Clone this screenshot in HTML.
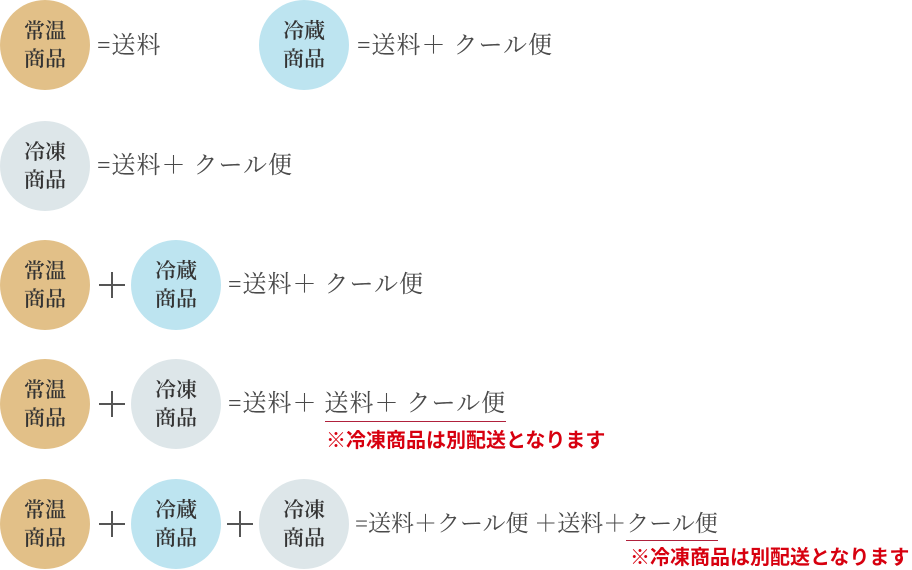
<!DOCTYPE html>
<html><head><meta charset="utf-8"><style>
body{margin:0;width:912px;height:570px;background:#fff;position:relative;overflow:hidden;font-family:"Liberation Serif","Noto Serif CJK JP","Noto Serif CJK SC",serif;color:#4a4a4a}
.c{position:absolute;width:90px;height:90px;border-radius:50%;display:flex;align-items:center;justify-content:center;text-align:center;font-size:21px;line-height:28px;color:#333;font-weight:600}
.t{background:#e2c088}.b{background:#bde4f0}.g{background:#dde6e9}
.x{position:absolute;font-size:24px;line-height:28px;letter-spacing:1px;white-space:nowrap}
.p{position:absolute;width:30px;height:30px}
.p:before{content:"";position:absolute;left:0;top:14px;width:26px;height:2px;background:#555}
.p:after{content:"";position:absolute;left:12px;top:2px;width:2px;height:26px;background:#555}
.u{border-bottom:1px solid #b0213c;padding-bottom:4px}
.n{position:absolute;color:#d7000f;font-weight:bold;font-size:20px;line-height:22px;white-space:nowrap;font-family:"Liberation Sans","Noto Sans CJK JP",sans-serif}
</style></head><body>
<div class="c t" style="left:0;top:0">常温<br>商品</div>
<div class="x" style="left:97px;top:32px">=送料</div>
<div class="c b" style="left:259px;top:0">冷蔵<br>商品</div>
<div class="x" style="left:357px;top:32px">=送料＋ クール便</div>

<div class="c g" style="left:0;top:121px">冷凍<br>商品</div>
<div class="x" style="left:97px;top:152px">=送料＋ クール便</div>

<div class="c t" style="left:0;top:240px">常温<br>商品</div>
<div class="p" style="left:99px;top:270px"></div>
<div class="c b" style="left:131px;top:240px">冷蔵<br>商品</div>
<div class="x" style="left:228px;top:271px">=送料＋ クール便</div>

<div class="c t" style="left:0;top:359px">常温<br>商品</div>
<div class="p" style="left:99px;top:389px"></div>
<div class="c g" style="left:131px;top:359px">冷凍<br>商品</div>
<div class="x" style="left:228px;top:390px">=送料＋ <span class="u">送料＋ クール便</span></div>
<div class="n" style="left:326px;top:430px">※冷凍商品は別配送となります</div>

<div class="c t" style="left:0;top:479px">常温<br>商品</div>
<div class="p" style="left:99px;top:509px"></div>
<div class="c b" style="left:131px;top:479px">冷蔵<br>商品</div>
<div class="p" style="left:227px;top:509px"></div>
<div class="c g" style="left:259px;top:479px">冷凍<br>商品</div>
<div class="x" style="left:355px;top:510px;letter-spacing:0;font-size:23px">=送料＋クール便 ＋送料＋<span class="u">クール便</span></div>
<div class="n" style="left:630px;top:547px">※冷凍商品は別配送となります</div>
</body></html>
